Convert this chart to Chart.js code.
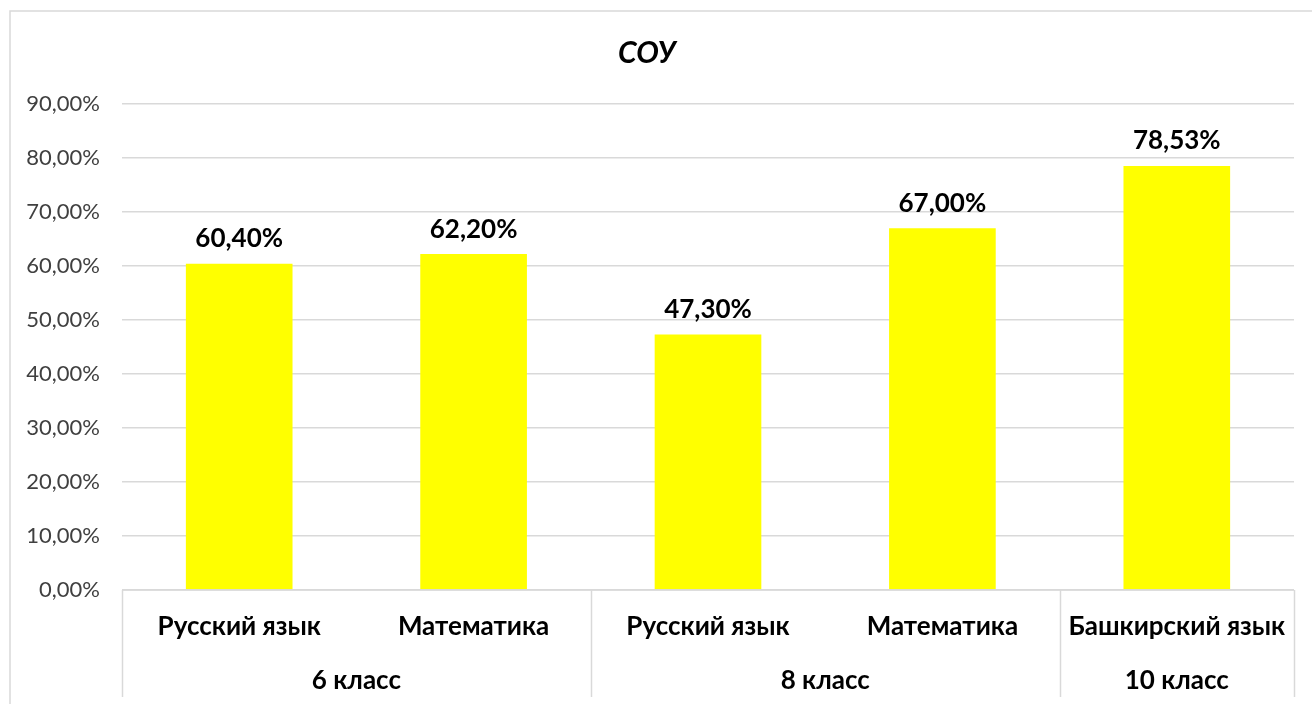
<!DOCTYPE html>
<html>
<head>
<meta charset="utf-8">
<script src="https://cdn.jsdelivr.net/npm/chart.js@4"></script>
<style>
  html, body { margin: 0; padding: 0; background: #fff; }
  #wrap { width: 1312px; height: 704px; }
</style>
</head>
<body>
<div id="wrap"><canvas id="chart" width="1312" height="704"></canvas></div>
<script>
const subjects = ["Русский язык", "Математика", "Русский язык", "Математика", "Башкирский язык"];
const classes = ["6 класс", "6 класс", "8 класс", "8 класс", "10 класс"];
const values = [60.40, 62.20, 47.30, 67.00, 78.53];
const yMax = 90;
const yStep = 10;

const FONT = "Lato, 'Open Sans', sans-serif";
const pct = (v) => v.toFixed(2).replace(".", ",") + "%";

// draws the frame, two-level category axis and value labels
const decor = {
  id: "decor",
  beforeDraw(chart) {
    const ctx = chart.ctx;
    ctx.save();
    ctx.strokeStyle = "#d9d9d9";
    ctx.lineWidth = 1.5;
    ctx.beginPath();
    ctx.moveTo(10, 720);
    ctx.lineTo(10, 11);
    ctx.lineTo(1330, 11);
    ctx.stroke();
    ctx.restore();
  },
  afterDatasetsDraw(chart) {
    const ctx = chart.ctx;
    const x = chart.scales.x;
    const area = chart.chartArea;
    const bottom = 697;
    const edge = (i) => {
      if (i <= 0) return x.left;
      if (i >= subjects.length) return x.right;
      return (x.getPixelForValue(i - 1) + x.getPixelForValue(i)) / 2;
    };

    ctx.save();
    ctx.strokeStyle = "#d9d9d9";
    ctx.lineWidth = 1.5;
    ctx.beginPath();
    ctx.moveTo(x.left, area.bottom);
    ctx.lineTo(x.right, area.bottom);
    ctx.stroke();

    // subject row
    ctx.fillStyle = "#000";
    ctx.textAlign = "center";
    ctx.textBaseline = "middle";
    ctx.font = "bold 26px " + FONT;
    subjects.forEach((s, i) => {
      ctx.fillText(s, x.getPixelForValue(i), 627);
    });

    // class row with separators
    let start = 0;
    const seps = [0];
    for (let i = 1; i <= classes.length; i++) {
      if (i === classes.length || classes[i] !== classes[start]) {
        const l = edge(start), r = edge(i);
        ctx.fillText(classes[start], (l + r) / 2, 681);
        seps.push(i);
        start = i;
      }
    }
    ctx.beginPath();
    seps.forEach((i) => {
      const px = Math.round(edge(i)) + 0.5;
      ctx.moveTo(px, area.bottom);
      ctx.lineTo(px, bottom);
    });
    ctx.stroke();

    // value labels
    ctx.font = "bold 26px " + FONT;
    const meta = chart.getDatasetMeta(0);
    meta.data.forEach((bar, i) => {
      ctx.fillText(pct(values[i]), bar.x, bar.y - 25);
    });
    ctx.restore();
  }
};

new Chart(document.getElementById("chart"), {
  type: "bar",
  data: {
    labels: subjects,
    datasets: [{
      data: values,
      backgroundColor: "#FFFF00",
      borderWidth: 0,
      categoryPercentage: 1,
      barPercentage: 0.455
    }]
  },
  options: {
    responsive: false,
    animation: false,
    layout: { padding: { left: 0, right: 18, top: 0, bottom: 0 } },
    plugins: {
      legend: { display: false },
      tooltip: { enabled: false },
      title: {
        display: true,
        text: "СОУ",
        color: "#000",
        font: { family: FONT, size: 30, weight: "bold", style: "italic" },
        padding: { top: 35, bottom: 33 }
      }
    },
    scales: {
      x: {
        grid: { display: false },
        border: { display: false },
        ticks: { display: false },
        afterFit: (scale) => { scale.height = 114; }
      },
      y: {
        min: 0,
        max: yMax,
        grid: { color: "#d9d9d9", lineWidth: 1.5, drawTicks: false },
        border: { display: false },
        ticks: {
          stepSize: yStep,
          padding: 22,
          color: "#404040",
          font: { family: FONT, size: 22 },
          callback: (v) => pct(v)
        },
        afterFit: (scale) => { scale.width = 122; }
      }
    }
  },
  plugins: [decor]
});
</script>
</body>
</html>
